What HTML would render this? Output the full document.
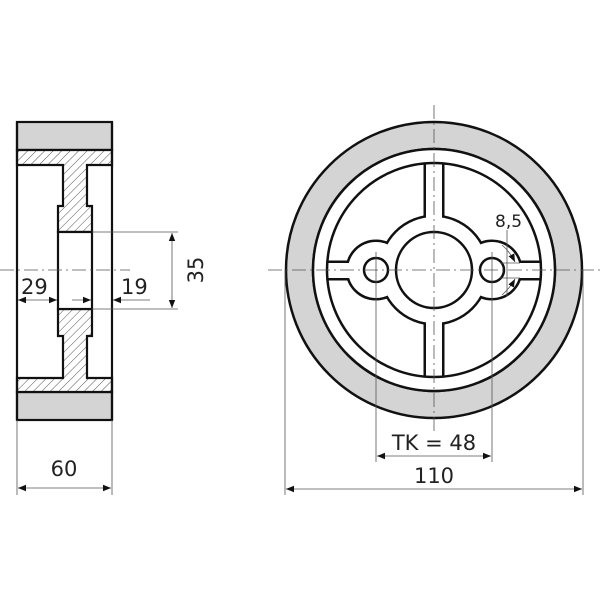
<!DOCTYPE html>
<html><head><style>body{margin:0;background:#fff}svg{display:block}</style></head><body>
<svg width="600" height="600" viewBox="0 0 600 600" xmlns="http://www.w3.org/2000/svg" font-family="'DejaVu Sans','Liberation Sans',sans-serif">
<defs>
<pattern id="h" width="6" height="6" patternUnits="userSpaceOnUse" patternTransform="rotate(45)">
<rect width="6" height="6" fill="#fff"/><line x1="0" y1="0" x2="0" y2="6" stroke="#444" stroke-width="0.9"/></pattern>
<marker id="a" viewBox="0 0 10 10" refX="10" refY="5" markerWidth="8" markerHeight="8" orient="auto-start-reverse" markerUnits="userSpaceOnUse"><path d="M0,1 L10,5 L0,9z" fill="#111"/></marker>
</defs>
<!-- LEFT VIEW -->
<g stroke="#111" stroke-width="2.2">
<rect x="17" y="122" width="95" height="28" fill="#d4d4d4"/>
<rect x="17" y="392" width="95" height="28" fill="#d4d4d4"/>
<path d="M17,150 H112 V165 H87 V206 H92 V232 H58 V206 H63 V165 H17 Z" fill="url(#h)"/>
<path d="M17,392 H112 V378 H87 V336 H92 V309 H58 V336 H63 V378 H17 Z" fill="url(#h)"/>
<rect x="58" y="232" width="34" height="77" fill="#fff"/>
<line x1="17" y1="122" x2="17" y2="420"/><line x1="112" y1="122" x2="112" y2="420"/>
</g>
<g stroke="#555" stroke-width="0.8" fill="none">
<line x1="0" y1="270" x2="130" y2="270" stroke-dasharray="14,4,2,4"/>
<line x1="92" y1="232" x2="178" y2="232"/><line x1="92" y1="309" x2="178" y2="309"/>
<line x1="172" y1="233" x2="172" y2="308" marker-start="url(#a)" marker-end="url(#a)"/>
<line x1="18" y1="300" x2="57" y2="300" marker-start="url(#a)" marker-end="url(#a)"/>
<line x1="72" y1="300" x2="91" y2="300" marker-end="url(#a)"/>
<line x1="150" y1="300" x2="113" y2="300" marker-end="url(#a)"/>
<line x1="17" y1="420" x2="17" y2="495"/><line x1="112" y1="420" x2="112" y2="495"/>
<line x1="18" y1="488" x2="111" y2="488" marker-start="url(#a)" marker-end="url(#a)"/>
</g>
<g font-size="21" fill="#222">
<text x="21" y="294">29</text><text x="121" y="294">19</text>
<text x="0" y="0" transform="translate(203,270) rotate(-90)" text-anchor="middle">35</text>
<text x="64" y="476" text-anchor="middle">60</text>
</g>
<!-- RIGHT VIEW -->
<g stroke="#111" stroke-width="2.5">
<circle cx="434" cy="270" r="148" fill="#d4d4d4"/>
<circle cx="434" cy="270" r="121" fill="#fff"/>
</g>
<g stroke="#111" stroke-width="5" fill="#fff">
<circle cx="434" cy="270" r="53"/><circle cx="376" cy="270" r="28"/><circle cx="492" cy="270" r="28"/>
<rect x="426" y="163" width="16" height="214"/><rect x="327" y="263" width="214" height="15"/>
</g>
<g fill="#fff">
<circle cx="434" cy="270" r="53"/><circle cx="376" cy="270" r="28"/><circle cx="492" cy="270" r="28"/>
<rect x="426" y="160" width="16" height="220"/><rect x="325" y="263" width="220" height="15"/>
</g>
<circle cx="434" cy="270" r="115" fill="none" stroke="#fff" stroke-width="14"/>
<g stroke="#111" stroke-width="2.5" fill="none">
<circle cx="434" cy="270" r="121"/>
<circle cx="434" cy="270" r="107"/>
</g>
<g stroke="#111" stroke-width="2.5" fill="#fff">
<circle cx="434" cy="270" r="38"/><circle cx="376" cy="270" r="12"/><circle cx="492" cy="270" r="12"/>
</g>
<g stroke="#555" stroke-width="0.8" fill="none">
<line x1="434" y1="105" x2="434" y2="435" stroke-dasharray="14,4,2,4"/>
<line x1="268" y1="270" x2="600" y2="270" stroke-dasharray="14,4,2,4"/>
<line x1="376" y1="252" x2="376" y2="462"/><line x1="492" y1="252" x2="492" y2="462"/>
<line x1="285" y1="270" x2="285" y2="495"/><line x1="583" y1="270" x2="583" y2="495"/>
<line x1="377" y1="456" x2="491" y2="456" marker-start="url(#a)" marker-end="url(#a)"/>
<line x1="286" y1="489" x2="582" y2="489" marker-start="url(#a)" marker-end="url(#a)"/>
<line x1="507" y1="230" x2="507" y2="296"/>
<line x1="500" y1="263" x2="520" y2="263"/><line x1="500" y1="278" x2="520" y2="278"/>
<path d="M502,245 Q510,252 515,262" marker-end="url(#a)"/>
<path d="M502,295 Q510,288 515,279" marker-end="url(#a)"/>
</g>
<g font-size="21" fill="#222">
<text x="434" y="450" text-anchor="middle">TK = 48</text>
<text x="434" y="483" text-anchor="middle">110</text>
<text x="495" y="227" font-size="17">8,5</text>
</g>
</svg>
</body></html>
